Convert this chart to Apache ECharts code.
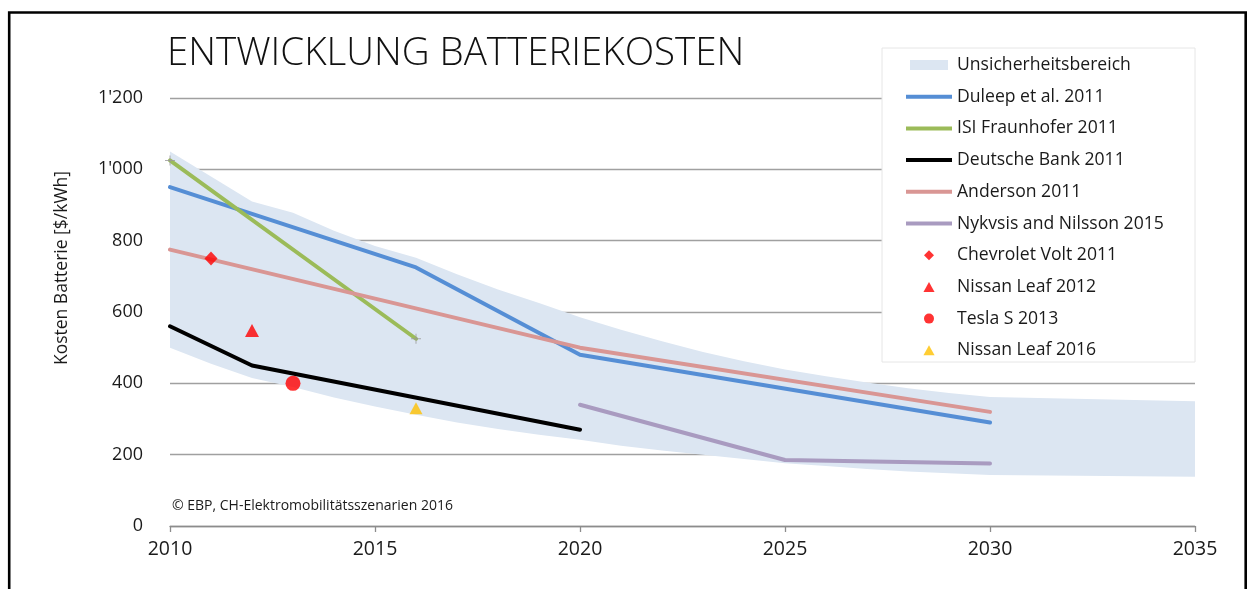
<!DOCTYPE html>
<html>
<head>
<meta charset="utf-8">
<script src="https://cdn.jsdelivr.net/npm/echarts@6/dist/echarts.min.js"></script>
<style>
  html, body { margin: 0; padding: 0; background: #fff; }
  #main { width: 1248px; height: 589px; }
</style>
</head>
<body>
<div id="main"></div>
<script>
// Unsicherheitsbereich (obere / untere Grenze)
const bandYears = [2010, 2011, 2012, 2013, 2014, 2015, 2016, 2017, 2018, 2019, 2020,
  2021, 2022, 2023, 2024, 2025, 2026, 2027, 2028, 2029, 2030, 2035];
const bandUpper = [1050, 980, 910, 878, 828, 785, 752, 706, 663, 625, 585,
  550, 518, 488, 462, 439, 420, 402, 386, 373, 362, 350];
const bandLower = [500, 455, 415, 390, 360, 335, 312, 290, 272, 256, 242,
  225, 212, 200, 188, 176, 168, 160, 153, 148, 143, 138];

// Szenarien
const duleepYears = [2010, 2016, 2020, 2030];
const duleepCost = [950, 725, 480, 290];
const isiYears = [2010, 2016];
const isiCost = [1025, 525];
const dbYears = [2010, 2012, 2020];
const dbCost = [560, 450, 270];
const andersonYears = [2010, 2020, 2030];
const andersonCost = [775, 500, 320];
const nykvistYears = [2020, 2025, 2030];
const nykvistCost = [340, 185, 175];

// Einzelne Fahrzeuge
const voltPoint = [2011, 750];
const leaf2012Point = [2012, 548];
const teslaPoint = [2013, 400];
const leaf2016Point = [2016, 330];

const xTicks = { min: 2010, max: 2035, step: 5 };
const yTicks = { min: 0, max: 1200, step: 200 };

function pairs(xs, ys) {
  return xs.map((x, i) => [x, ys[i]]);
}

const FONT = "'Open Sans', 'Noto Sans', sans-serif";
const LINE_ICON = "path://M0,0 L46,0 L46,4 L0,4 Z";
const BAND_ICON = "path://M0,0 L38,0 L38,10 L0,10 Z";
const DIAMOND_ICON = "path://M5,0 L10,5 L5,10 L0,5 Z";
const TRIANGLE_ICON = "path://M5,0 L10,9 L0,9 Z";

const myChart = echarts.init(document.getElementById("main"));

function lineSeries(name, xs, ys, color) {
  return {
    name: name,
    type: "line",
    data: pairs(xs, ys),
    symbol: "none",
    showSymbol: false,
    z: 3,
    lineStyle: { color: color, width: 4, cap: "round", join: "round" },
    itemStyle: { color: color },
  };
}

function scatterSeries(name, point, symbol, size, color) {
  return {
    name: name,
    type: "scatter",
    data: [point],
    symbol: symbol,
    symbolSize: size,
    z: 4,
    itemStyle: { color: color },
  };
}

function legendItem(name, icon, color) {
  return { name: name, icon: icon, itemStyle: { color: color } };
}

// Band als Polygon: obere Grenze hin, untere Grenze zurück
function renderBand(params, api) {
  if (params.dataIndex !== 0) return null;
  const upper = bandYears.map((y, i) => api.coord([y, bandUpper[i]]));
  const lower = bandYears.map((y, i) => api.coord([y, bandLower[i]])).reverse();
  return {
    type: "polygon",
    shape: { points: upper.concat(lower) },
    style: { fill: "#dce6f2" },
  };
}

const option = {
  animation: false,
  backgroundColor: "#fff",
  textStyle: { fontFamily: FONT },
  grid: { left: 170, right: 53, top: 98, bottom: 63 },
  xAxis: {
    type: "value",
    min: xTicks.min,
    max: xTicks.max,
    interval: xTicks.step,
    axisLine: { show: true, lineStyle: { color: "#8c8c8c", width: 1.3 } },
    axisTick: { show: true, length: 6, lineStyle: { color: "#8c8c8c", width: 1.3 } },
    axisLabel: {
      color: "#1a1a1a",
      fontSize: 19.5,
      margin: 13,
      fontFamily: FONT,
      formatter: (v) => String(v),
    },
    splitLine: { show: false },
  },
  yAxis: {
    type: "value",
    min: yTicks.min,
    max: yTicks.max,
    interval: yTicks.step,
    axisLine: { show: false },
    axisTick: { show: false },
    axisLabel: {
      color: "#1a1a1a",
      fontSize: 18,
      margin: 27,
      fontFamily: FONT,
      formatter: (v) => (v >= 1000 ? Math.floor(v / 1000) + "'" + String(v % 1000).padStart(3, "0") : String(v)),
    },
    splitLine: { show: true, lineStyle: { color: "#a0a0a0", width: 1.3 } },
  },
  legend: {
    orient: "vertical",
    left: 906,
    top: 56,
    itemWidth: 46,
    itemHeight: 10,
    itemGap: 13.7,
    padding: 0,
    textStyle: { fontSize: 17.6, color: "#1a1a1a", fontFamily: FONT },
    data: [
      legendItem("Unsicherheitsbereich", BAND_ICON, "#dce6f2"),
      legendItem("Duleep et al. 2011", LINE_ICON, "#558ed5"),
      legendItem("ISI Fraunhofer 2011", LINE_ICON, "#9bbb59"),
      legendItem("Deutsche Bank 2011", LINE_ICON, "#000000"),
      legendItem("Anderson 2011", LINE_ICON, "#d99694"),
      legendItem("Nykvsis and Nilsson 2015", LINE_ICON, "#a99bc0"),
      legendItem("Chevrolet Volt 2011", DIAMOND_ICON, "#ff0000"),
      legendItem("Nissan Leaf 2012", TRIANGLE_ICON, "#ff0000"),
      legendItem("Tesla S 2013", "circle", "#ff0000"),
      legendItem("Nissan Leaf 2016", TRIANGLE_ICON, "#ffc000"),
    ],
  },
  graphic: [
    {
      type: "rect",
      z: 1,
      shape: { x: 882, y: 48, width: 313, height: 314 },
      style: { fill: "#fff", stroke: "#e6e6e6", lineWidth: 1 },
    },
    {
      type: "rect",
      z: 10,
      shape: { x: 9.2, y: 12.5, width: 1236.5, height: 600 },
      style: { fill: "none", stroke: "#000", lineWidth: 2.6 },
    },
    {
      type: "text",
      z: 10,
      left: 167,
      top: 35,
      style: {
        text: "ENTWICKLUNG BATTERIEKOSTEN",
        fontSize: 38.5,
        fontWeight: 300,
        fontFamily: FONT,
        fill: "#111",
      },
    },
    {
      type: "text",
      z: 10,
      x: 62,
      y: 268,
      rotation: Math.PI / 2,
      style: {
        text: "Kosten Batterie [$/kWh]",
        fontSize: 17.5,
        fontFamily: FONT,
        fill: "#1a1a1a",
        align: "center",
        verticalAlign: "middle",
      },
    },
    {
      type: "text",
      z: 10,
      left: 172,
      top: 499,
      style: {
        text: "© EBP, CH-Elektromobilitätsszenarien 2016",
        fontSize: 14,
        fontFamily: FONT,
        fill: "#1a1a1a",
      },
    },
  ],
  series: [
    {
      name: "Unsicherheitsbereich",
      type: "custom",
      renderItem: renderBand,
      data: pairs(bandYears, bandUpper),
      itemStyle: { color: "#dce6f2" },
      z: 2,
    },
    lineSeries("Duleep et al. 2011", duleepYears, duleepCost, "#558ed5"),
    lineSeries("ISI Fraunhofer 2011", isiYears, isiCost, "#9bbb59"),
    lineSeries("Deutsche Bank 2011", dbYears, dbCost, "#000000"),
    lineSeries("Anderson 2011", andersonYears, andersonCost, "#d99694"),
    lineSeries("Nykvsis and Nilsson 2015", nykvistYears, nykvistCost, "#a99bc0"),
    {
      name: "isi-marker",
      type: "scatter",
      data: pairs(isiYears, isiCost),
      symbol: "path://M4.5,0 L5.5,0 L5.5,4.5 L10,4.5 L10,5.5 L5.5,5.5 L5.5,10 L4.5,10 L4.5,5.5 L0,5.5 L0,4.5 L4.5,4.5 Z",
      symbolSize: 10,
      itemStyle: { color: "#999999" },
      z: 3,
    },
    scatterSeries("Chevrolet Volt 2011", voltPoint, "diamond", [13, 14], "#ff0000"),
    scatterSeries("Nissan Leaf 2012", leaf2012Point, "triangle", [14, 13], "#ff0000"),
    scatterSeries("Tesla S 2013", teslaPoint, "circle", 15, "#ff0000"),
    scatterSeries("Nissan Leaf 2016", leaf2016Point, "triangle", [13, 12], "#ffc000"),
  ],
};

myChart.setOption(option);
</script>
</body>
</html>
